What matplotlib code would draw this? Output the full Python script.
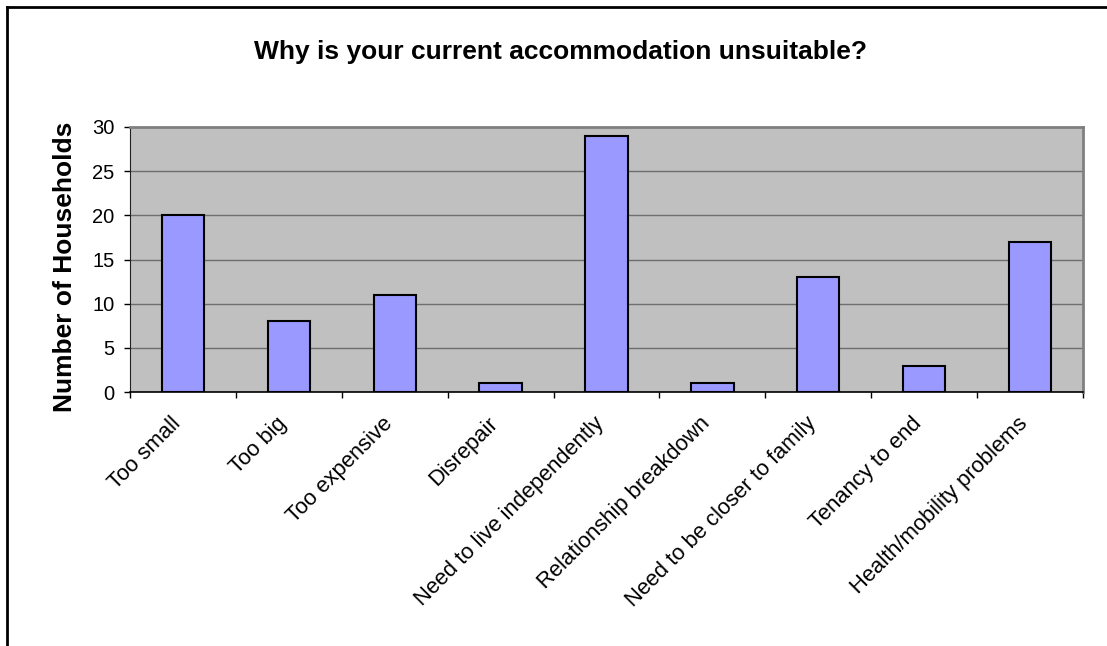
import matplotlib.pyplot as plt
from matplotlib.lines import Line2D
from matplotlib.transforms import ScaledTranslation
import numpy as np

plt.rcParams['font.family'] = ['Liberation Sans', 'DejaVu Sans']

# Reasons and household counts
reasons = ['Too small', 'Too big', 'Too expensive', 'Disrepair',
           'Need to live independently', 'Relationship breakdown',
           'Need to be closer to family', 'Tenancy to end',
           'Health/mobility problems']
households = [20, 8, 11, 1, 29, 1, 13, 3, 17]
yticks = [0, 5, 10, 15, 20, 25, 30]

W, H = 1107, 646
fig = plt.figure(figsize=(W / 100, H / 100), dpi=100)
ax = fig.add_axes([130 / W, 1 - 392 / H, (1083 - 130) / W, (392 - 127) / H])

x = np.arange(len(reasons))
ax.bar(x, households, width=0.4, color='#9999FF', edgecolor='black',
       linewidth=1.5, zorder=3)

ax.set_facecolor('#C0C0C0')
ax.set_xlim(-0.5, len(reasons) - 0.5)
ax.set_ylim(0, 30)
ax.set_yticks(yticks)
ax.tick_params(axis='y', labelsize=14.5, length=4.3, width=1, color='black', pad=7)
ax.yaxis.grid(True, color='#6E6E6E', linewidth=1, zorder=1)

# category ticks sit between the bars
ax.set_xticks(np.arange(len(reasons) + 1) - 0.5)
ax.set_xticklabels([])
ax.tick_params(axis='x', length=4.3, width=1, color='black')
ax.set_xticks(x, minor=True)
ax.set_xticklabels(reasons, minor=True, rotation=45, ha='right', va='top',
                   rotation_mode='anchor', fontsize=15.8)
ax.tick_params(axis='x', which='minor', length=0, pad=13)
# nudge the slanted labels a little left and down
shift = ScaledTranslation(-0.13, -0.03, fig.dpi_scale_trans)
for lbl in ax.get_xticklabels(minor=True):
    lbl.set_transform(lbl.get_transform() + shift)

for side in ['top', 'right']:
    ax.spines[side].set_color('#808080')
    ax.spines[side].set_linewidth(2)
ax.spines['left'].set_color('#202020')
ax.spines['bottom'].set_color('black')
ax.spines['bottom'].set_linewidth(1.2)

ax.set_ylabel('Number of Households', fontsize=19, fontweight='bold')
ax.yaxis.set_label_coords((77 - 130) / 953, (392 - 267) / 265)
fig.text(561 / W, 1 - 52 / H, 'Why is your current accommodation unsuitable?',
         ha='center', va='center', fontsize=19, fontweight='bold')

# chart frame
fig.add_artist(Line2D([7 / W, 7 / W], [0, 1 - 7 / H], color='black', linewidth=2,
                      transform=fig.transFigure))
fig.add_artist(Line2D([7 / W, 1], [1 - 7 / H, 1 - 7 / H], color='black', linewidth=2,
                      transform=fig.transFigure))

fig.savefig('out.png', dpi=100)
